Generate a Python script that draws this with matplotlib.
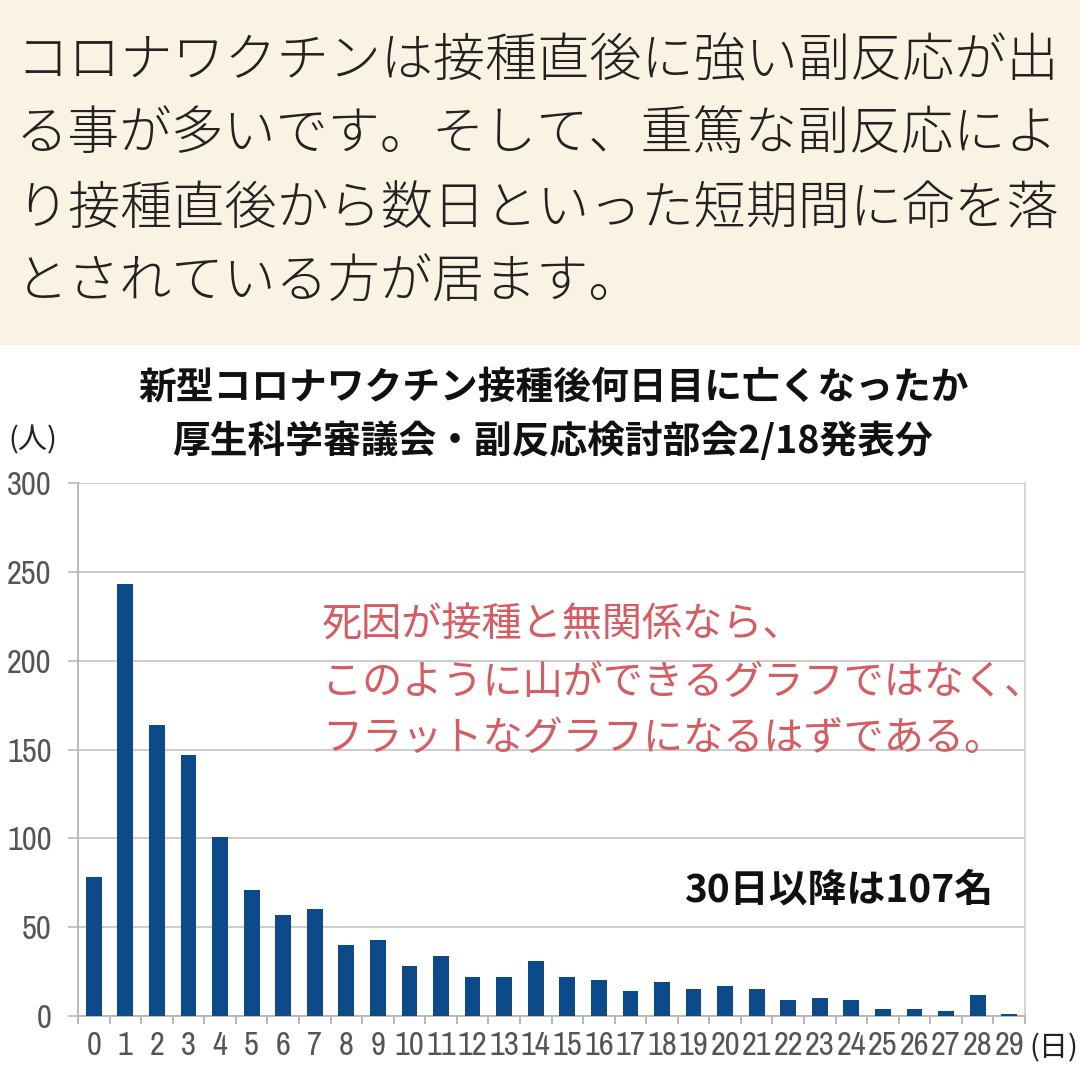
import matplotlib
matplotlib.use("Agg")
import matplotlib.pyplot as plt
from matplotlib.patches import Rectangle
import matplotlib.font_manager as fm

plt.rcParams['font.family'] = ['Noto Sans CJK JP', 'DejaVu Sans']

days = list(range(30))
deaths = [78, 243, 164, 147, 101, 71, 57, 60, 40, 43,
          28, 34, 22, 22, 31, 22, 20, 14, 19, 15,
          17, 15, 9, 10, 9, 4, 4, 3, 12, 1]
day_labels = [str(d) for d in days]
y_ticks = [0, 50, 100, 150, 200, 250, 300]

intro_lines = [
    "コロナワクチンは接種直後に強い副反応が出",
    "る事が多いです。そして、重篤な副反応によ",
    "り接種直後から数日といった短期間に命を落",
    "とされている方が居ます。",
]
title_lines = ["新型コロナワクチン接種後何日目に亡くなったか",
               "厚生科学審議会・副反応検討部会2/18発表分"]
note_lines = ["死因が接種と無関係なら、",
              "このように山ができるグラフではなく、",
              "フラットなグラフになるはずである。"]
after30 = "30日以降は107名"

# find a narrow / condensed font if available
narrow_prop = None
for key in ("Narrow", "Condensed"):
    cands = [f for f in fm.fontManager.ttflist
             if key in f.name and f.style == "normal"
             and f.weight in (400, "normal", "regular")]
    if not cands:
        cands = [f for f in fm.fontManager.ttflist
                 if key.lower() in f.fname.lower() and "bold" not in f.fname.lower()
                 and "italic" not in f.fname.lower()]
    if cands:
        narrow_prop = cands[0].fname
        break
if narrow_prop is None:
    cands = [f for f in fm.fontManager.ttflist
             if f.stretch in ("condensed", "semi-condensed", "extra-condensed")
             and f.style == "normal"]
    if cands:
        narrow_prop = cands[0].fname

W = H = 1080
fig = plt.figure(figsize=(10.8, 10.8), dpi=100)
fig.patch.set_facecolor("white")

def fx(px):
    return px / W

def fy(py):
    return 1 - py / H

fig.patches.append(Rectangle((0, fy(345)), 1, 345 / H, transform=fig.transFigure,
                             facecolor="#FAF2E3", edgecolor="none", zorder=0))

for i, line in enumerate(intro_lines):
    fig.text(fx(16), fy(62 + i * 73.5), line, fontsize=37.5, color="#222222",
             ha="left", va="center", fontweight="light")

fig.text(fx(554), fy(387), title_lines[0], fontsize=27.2, fontweight="bold",
         ha="center", va="center", color="#111111")
fig.text(fx(553), fy(441), title_lines[1], fontsize=27.2, fontweight="bold",
         ha="center", va="center", color="#111111")

fig.text(fx(8), fy(440), "(人)", fontsize=21, ha="left", va="center", color="#222222")
fig.text(fx(1029), fy(1048), "(日)", fontsize=21, ha="left", va="center", color="#222222")

ax_left, ax_right, ax_top, ax_bottom = 78, 1025, 483, 1016
ax = fig.add_axes([fx(ax_left), fy(ax_bottom), (ax_right - ax_left) / W,
                   (ax_bottom - ax_top) / H])
ax.bar(days, deaths, width=0.5, color="#0C4A8A", zorder=3)
ax.set_xlim(-0.5, 29.5)
ax.set_ylim(0, 300)
ax.set_yticks(y_ticks)
ax.set_yticklabels([str(v) for v in y_ticks])
ax.set_xticks(days)
ax.set_xticklabels(day_labels)
ax.set_xticks([d + 0.5 for d in range(-1, 30)], minor=True)

for lab in ax.get_yticklabels() + ax.get_xticklabels():
    if narrow_prop:
        lab.set_fontproperties(fm.FontProperties(fname=narrow_prop, size=23.5))
    else:
        lab.set_family(['DejaVu Sans'])
        lab.set_fontsize(14.5)
    lab.set_color("#555555")

ax.tick_params(axis='x', which='major', length=0, pad=11)
ax.tick_params(axis='x', which='minor', length=6, color="#AAAAAA", width=1.2)
ax.tick_params(axis='y', length=7, color="#BBBBBB", width=1.2, pad=12)
ax.grid(axis='y', color="#C8C8C8", linewidth=1.3, zorder=0)
for side in ['left', 'bottom', 'right']:
    ax.spines[side].set_color("#B5B5B5")
    ax.spines[side].set_linewidth(1.3)
ax.spines['right'].set_color("#D0D0D0")
ax.spines['top'].set_visible(False)

for i, line in enumerate(note_lines):
    fig.text(fx(322), fy(626 + i * 56.5), line, fontsize=28.9, color="#D65C62",
             ha="left", va="center")

fig.text(fx(684), fy(890), after30, fontsize=28, fontweight="bold",
         color="#111111", ha="left", va="center")

fig.savefig("out.png", dpi=100)
